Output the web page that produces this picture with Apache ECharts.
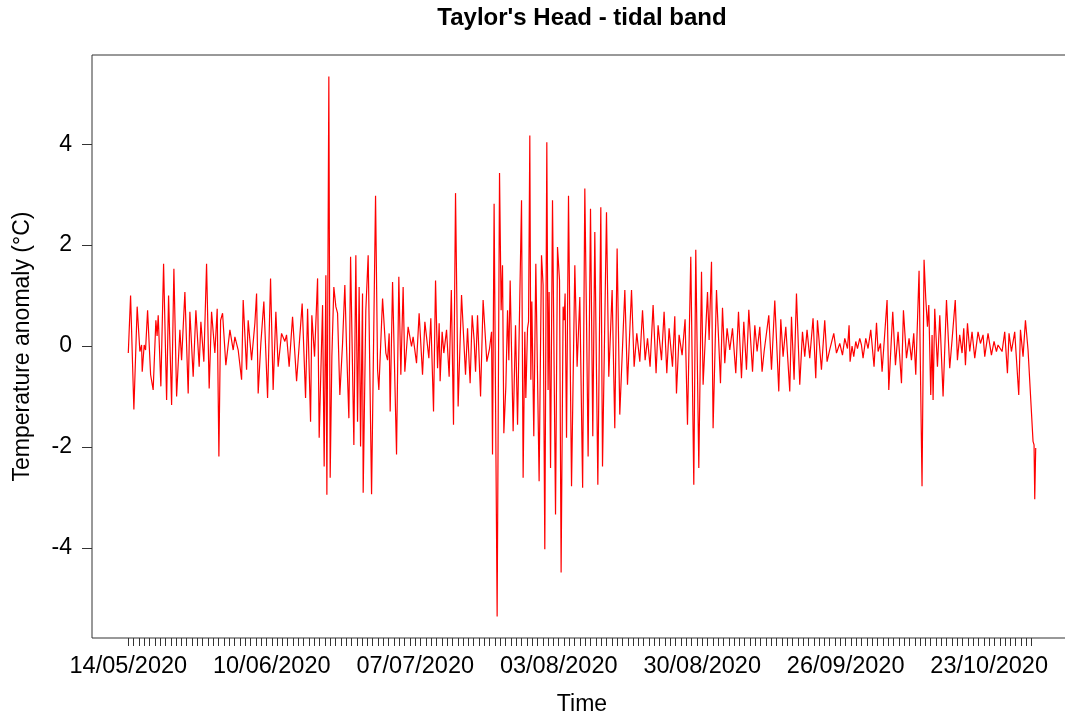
<!DOCTYPE html>
<html>
<head>
<meta charset="utf-8">
<title>Taylor's Head - tidal band</title>
<script src="https://cdn.jsdelivr.net/npm/echarts@6/dist/echarts.min.js"></script>
<style>
  html, body { margin: 0; padding: 0; background: #fff; }
  #chart { width: 1065px; height: 719px; }
</style>
</head>
<body>
<div id="chart"></div>
<script>
// Record start (day 0 = 14/05/2020, UTC)
const startDate = Date.UTC(2020, 4, 14);

// Days labelled on the time axis (every 27 days)
const labelDays = [0, 27, 54, 81, 108, 135, 162];
// Last daily tick
const lastTickDay = 170;

// Y-axis tick values
const yTicks = [-4, -2, 0, 2, 4];

// Time of each sample (days since 14/05/2020)
const days = [
  0.00, 0.43, 1.05, 1.67, 2.18, 2.50, 2.62, 2.99, 3.25, 3.63, 4.20, 4.68, 5.19, 5.42, 5.63, 6.13, 6.64, 7.21, 7.58, 8.15,
  8.58, 9.09, 9.71, 10.03, 10.65, 11.27, 11.59, 12.21, 12.72, 13.34, 13.66, 14.22, 14.73, 15.22, 15.67, 16.29, 16.73, 17.05, 17.37, 17.74,
  18.36, 19.12, 19.74, 20.06, 20.68, 21.32, 21.62, 22.26, 22.56, 23.20, 23.82, 24.14, 24.44, 24.95, 25.51, 26.21, 26.77, 27.26, 27.77, 28.20,
  28.84, 29.46, 29.78, 30.27, 30.91, 31.67, 32.72, 33.36, 33.74, 34.30, 34.54, 35.05, 35.62, 35.92, 36.56, 36.86, 37.18, 37.37, 37.74, 37.99,
  38.31, 38.68, 39.06, 39.38, 39.81, 40.32, 40.75, 41.07, 41.51, 41.83, 42.45, 42.82, 43.14, 43.44, 43.71, 44.08, 44.20, 44.70, 45.14, 45.78,
  46.53, 46.91, 47.15, 47.85, 48.47, 48.79, 49.09, 49.28, 49.73, 50.03, 50.48, 50.91, 51.29, 51.72, 52.04, 52.66, 53.30, 53.60, 54.24, 54.73,
  55.37, 55.81, 56.56, 56.93, 57.44, 57.82, 58.20, 58.50, 58.68, 59.06, 59.38, 59.89, 60.38, 60.79, 61.20, 61.58, 62.07, 62.71, 63.46, 63.84,
  64.33, 64.71, 65.08, 65.35, 65.72, 66.29, 66.77, 67.47, 67.98, 68.36, 68.54, 68.84, 69.41, 69.86, 70.16, 70.42, 70.67, 71.05, 71.37, 71.61,
  71.86, 72.42, 72.87, 73.25, 74.00, 74.30, 74.62, 74.81, 75.13, 75.32, 75.56, 75.75, 75.94, 76.31, 76.69, 77.31, 77.76, 78.06, 78.38, 78.76,
  79.00, 79.19, 79.46, 79.83, 80.40, 80.77, 81.15, 81.45, 81.83, 82.02, 82.20, 82.47, 82.84, 83.41, 84.03, 84.46, 84.97, 85.50, 85.91, 86.23,
  86.53, 86.98, 87.41, 87.79, 88.36, 88.92, 89.24, 89.99, 90.42, 91.05, 91.55, 91.99, 92.49, 93.44, 93.94, 94.70, 95.19, 95.69, 96.26, 96.77,
  97.26, 97.71, 98.19, 98.76, 99.32, 99.70, 100.34, 100.83, 101.34, 101.77, 102.41, 102.84, 103.16, 103.65, 104.22, 104.78, 105.23, 105.85, 106.42, 106.79,
  107.36, 107.87, 108.17, 109.00, 109.30, 109.75, 110.05, 110.69, 111.44, 111.82, 112.25, 112.68, 113.19, 113.70, 114.32, 114.83, 115.39, 115.83, 116.33, 116.77,
  117.47, 117.90, 118.33, 118.84, 119.27, 119.65, 120.53, 121.04, 121.66, 122.41, 122.79, 123.22, 123.73, 124.48, 124.80, 125.29, 125.74, 126.36, 126.87, 127.30,
  127.73, 128.24, 128.86, 129.37, 129.69, 130.44, 131.06, 131.50, 132.00, 132.76, 133.27, 133.89, 134.40, 134.83, 135.34, 135.64, 135.83, 136.20, 136.52, 136.90,
  137.22, 137.65, 137.97, 138.27, 138.78, 139.21, 139.72, 140.34, 140.80, 141.10, 141.55, 141.85, 142.79, 143.11, 143.86, 144.37, 144.86, 145.50, 145.87, 146.44,
  146.93, 147.38, 147.81, 148.19, 148.81, 149.13, 149.37, 149.75, 150.07, 150.39, 150.64, 151.01, 151.26, 151.45, 151.76, 152.27, 152.71, 153.33, 153.97, 154.58,
  155.02, 155.62, 156.03, 156.46, 156.90, 157.22, 157.54, 157.92, 158.35, 158.78, 159.29, 159.91, 160.36, 160.85, 161.17, 161.79, 162.43, 162.92, 163.37, 163.67,
  164.43, 164.93, 165.44, 165.74, 166.19, 166.81, 167.57, 167.89, 168.38, 168.83, 169.32, 170.26, 170.45, 170.58, 170.76
];

// Tidal-band temperature anomaly (°C)
const anomaly = [
  -0.14, 1.00, -1.26, 0.78, -0.11, 0.02, -0.51, 0.02, -0.08, 0.71, -0.57, -0.87, 0.51, 0.20, 0.61, -0.80, 1.63, -1.07, 1.00, -1.17,
  1.53, -1.00, 0.32, -0.28, 1.07, -0.94, 0.68, -0.61, 0.71, -0.41, 0.48, -0.31, 1.63, -0.84, 0.68, -0.14, 0.74, -2.19, 0.51, 0.65,
  -0.38, 0.32, -0.08, 0.18, -0.08, -0.67, 0.91, -0.47, 0.51, -0.28, 0.45, 1.04, -0.94, 0.06, 0.88, -1.03, 1.34, -0.87, 0.68, -0.41,
  0.25, 0.09, 0.22, -0.41, 0.58, -0.70, 0.84, -1.03, 0.74, -1.50, 0.61, -0.21, 1.34, -1.82, 0.81, -2.39, 1.40, -2.95, 5.34, -2.61,
  -0.21, 1.17, 0.78, 0.65, -0.97, 0.05, 1.21, -0.01, -1.43, 1.77, -1.96, 1.80, -1.50, 1.17, -1.99, 1.04, -2.91, 0.71, 1.80, -2.94,
  2.98, -0.47, -0.87, 0.94, -0.14, -0.28, 0.25, -1.30, 1.27, 1.24, -2.15, 1.37, -0.57, 1.17, -0.51, 0.38, -0.01, 0.18, -0.34, 0.65,
  -0.57, 0.48, -0.24, 0.55, -1.30, 1.30, -0.44, 0.45, -0.70, 0.28, -0.14, 0.32, -0.61, 1.11, -1.56, 3.03, -1.20, 1.01, -0.57, 0.35,
  -0.74, 0.61, 0.12, -0.51, 0.61, -1.00, 0.91, -0.31, -0.05, 0.28, -2.15, 2.82, -5.36, 3.43, 0.71, 1.60, -1.73, -0.80, 0.71, -0.28,
  1.30, -1.69, 0.41, -1.56, 2.89, -2.61, 0.28, -1.03, 0.35, 0.48, 4.17, -0.67, 0.88, -1.79, 1.63, -2.68, 1.80, 1.21, -4.03, 4.04,
  -0.87, 1.07, -2.42, 2.89, -3.34, 1.96, 1.30, -4.49, 0.78, 0.51, 1.04, -1.82, 2.98, -2.78, 1.60, -0.41, 0.97, -2.81, 3.12, 0.51,
  -2.19, 2.72, -1.79, 2.26, -2.75, 2.75, -2.39, 2.65, -0.61, 1.11, -1.63, 1.93, -1.36, 1.11, -0.77, 1.11, -0.41, 0.25, -0.31, 0.71,
  -0.28, 0.15, -0.41, 0.81, -0.54, 0.41, -0.28, 0.68, -0.54, 0.35, -0.41, 0.59, -0.94, 0.22, -0.18, 0.53, -1.56, 1.77, -2.75, 1.91,
  -2.42, 1.47, -0.77, 1.07, 0.12, 1.67, -1.63, 1.11, -0.74, 0.76, -0.34, 0.35, -0.08, 0.35, -0.54, 0.68, -0.64, 0.48, -0.47, 0.72,
  -0.51, 0.41, -0.11, 0.38, -0.51, -0.11, 0.61, -0.47, 0.90, -0.90, 0.53, -0.21, 0.38, -0.90, 0.58, -0.67, 1.04, -0.77, 0.28, -0.21,
  0.32, -0.24, 0.55, -0.64, 0.51, -0.47, 0.51, -0.31, -0.07, 0.25, -0.14, 0.05, -0.18, 0.15, -0.05, 0.41, -0.31, 0.00, -0.21, 0.09,
  -0.05, 0.15, 0.02, -0.24, 0.15, -0.05, 0.32, -0.41, 0.46, -0.11, 0.05, -0.51, 0.91, -0.87, 0.68, -0.38, 0.28, -0.74, 0.71, -0.24,
  0.15, -0.28, 0.25, -0.57, 1.49, 1.47, -2.78, 1.71, 0.94, 0.38, 0.81, -0.97, 0.22, -1.07, 0.74, -0.41, 0.61, -1.00, 0.91, -0.44,
  0.12, 0.91, -0.28, 0.22, -0.14, 0.35, -0.38, 0.45, -0.11, 0.28, -0.24, 0.28, 0.05, 0.22, -0.21, 0.25, -0.18, 0.09, -0.11, 0.02,
  -0.11, 0.28, -0.54, 0.25, -0.11, 0.28, -0.97, 0.32, -0.21, 0.51, -0.08, -1.89, -1.96, -3.04, -2.02
];

const series = days.map((d, i) => [d, anomaly[i]]);

// Axis ranges padded by 4% either side of the data
const xSpan = days[days.length - 1] - days[0];
const xMin = days[0] - 0.04 * xSpan;
const xMax = days[days.length - 1] + 0.04 * xSpan;
const yLo = Math.min(...anomaly), yHi = Math.max(...anomaly);
const yMin = yLo - 0.04 * (yHi - yLo);
const yMax = yHi + 0.04 * (yHi - yLo);

const tickDays = [];
for (let d = 0; d <= lastTickDay; d++) tickDays.push(d);

function fmtDate(d) {
  const t = new Date(startDate + d * 86400000);
  const dd = String(t.getUTCDate()).padStart(2, '0');
  const mm = String(t.getUTCMonth() + 1).padStart(2, '0');
  return dd + '/' + mm + '/' + t.getUTCFullYear();
}

const FONT = "'Liberation Sans', Arial, sans-serif";
const chart = echarts.init(document.getElementById('chart'), null, { renderer: 'canvas' });

chart.setOption({
  animation: false,
  backgroundColor: '#ffffff',
  title: {
    text: "Taylor's Head - tidal band",
    left: 582,
    top: 6,
    padding: 0,
    textAlign: 'center',
    textStyle: { fontFamily: FONT, fontSize: 24, fontWeight: 'bold', color: '#000' }
  },
  grid: {
    left: 92, top: 55, width: 980, height: 583,
    containLabel: false,
    outerBoundsMode: 'none',
    show: true, borderColor: '#333', borderWidth: 1, backgroundColor: 'transparent'
  },
  xAxis: {
    type: 'value',
    min: xMin, max: xMax,
    name: 'Time',
    nameLocation: 'middle',
    nameGap: 55,
    nameTextStyle: { fontFamily: FONT, fontSize: 23, color: '#000', verticalAlign: 'top' },
    axisLine: { show: false, onZero: false },
    splitLine: { show: false },
    axisTick: {
      show: true, length: 8, customValues: tickDays,
      lineStyle: { color: '#333', width: 1 }
    },
    axisLabel: {
      show: true, customValues: labelDays, margin: 17,
      fontFamily: FONT, fontSize: 23.5, color: '#000',
      formatter: v => fmtDate(v)
    }
  },
  yAxis: {
    type: 'value',
    min: yMin, max: yMax,
    name: 'Temperature anomaly (°C)',
    nameLocation: 'middle',
    nameRotate: 90,
    nameGap: 58,
    nameTextStyle: { fontFamily: FONT, fontSize: 23, color: '#000' },
    axisLine: { show: false, onZero: false },
    splitLine: { show: false },
    axisTick: {
      show: true, length: 10, customValues: yTicks,
      lineStyle: { color: '#333', width: 1 }
    },
    axisLabel: {
      show: true, customValues: yTicks, margin: 20,
      fontFamily: FONT, fontSize: 23, color: '#000',
      formatter: v => String(v)
    }
  },
  series: [{
    type: 'line',
    data: series,
    showSymbol: false,
    symbol: 'none',
    lineStyle: { color: '#ff0000', width: 1.2 },
    emphasis: { disabled: true },
    z: 2
  }]
});
</script>
</body>
</html>
